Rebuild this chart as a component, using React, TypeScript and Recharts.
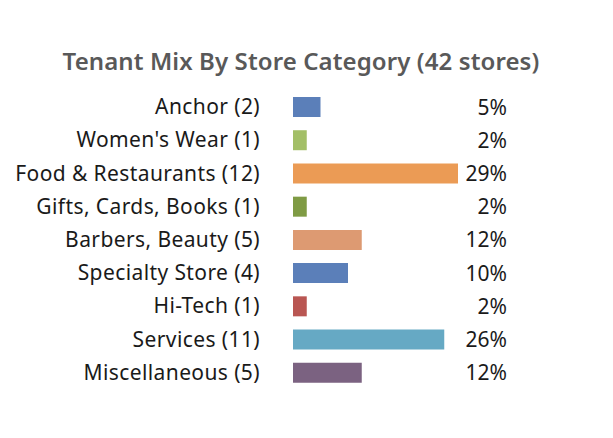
import React from "react";
import { BarChart, Bar, XAxis, YAxis, Cell, LabelList } from "recharts";

const categories = [
  "Anchor (2)",
  "Women's Wear (1)",
  "Food & Restaurants (12)",
  "Gifts, Cards, Books (1)",
  "Barbers, Beauty (5)",
  "Specialty Store (4)",
  "Hi-Tech (1)",
  "Services (11)",
  "Miscellaneous (5)",
];
const storeCounts = [2, 1, 12, 1, 5, 4, 1, 11, 5];
const percentLabels = ["5%", "2%", "29%", "2%", "12%", "10%", "2%", "26%", "12%"];
const barColors = [
  "#5b7fb9",
  "#a3bf67",
  "#eb9b55",
  "#7f9b44",
  "#dd9a72",
  "#5b7fb9",
  "#b95652",
  "#66a9c4",
  "#7b6281",
];
const title = "Tenant Mix By Store Category (42 stores)";

const data = categories.map((name, i) => ({
  name,
  count: storeCounts[i],
  pct: percentLabels[i],
}));

const FONT = "'Noto Sans', 'Open Sans', sans-serif";

const CategoryTick = (props: any) => {
  const { x, y, payload } = props;
  return (
    <text
      x={x - 25}
      y={y}
      dy={7.5}
      textAnchor="end"
      fill="#1a1a1a"
      fontSize={21}
      letterSpacing={0.4}
      fontFamily={FONT}
    >
      {payload.value}
    </text>
  );
};

const PctLabel = (props: any) => {
  const { y, height, index } = props;
  return (
    <text
      x={507}
      y={y + height / 2}
      dy={7.5}
      textAnchor="end"
      fill="#1a1a1a"
      fontSize={21}
      fontFamily={FONT}
    >
      {percentLabels[index]}
    </text>
  );
};

export default function App() {
  return (
    <div
      style={{
        position: "absolute",
        left: 0,
        top: 0,
        width: 613,
        height: 438,
        background: "#ffffff",
      }}
    >
      <div
        style={{
          position: "absolute",
          left: 0,
          top: 45,
          width: 602,
          textAlign: "center",
          fontFamily: FONT,
          fontWeight: 600,
          fontSize: 24,
          letterSpacing: 0.1,
          color: "#595959",
          lineHeight: "32px",
        }}
      >
        {title}
      </div>
      <BarChart
        width={613}
        height={438}
        data={data}
        layout="vertical"
        margin={{ top: 90, right: 155, bottom: 49, left: 0 }}
        barSize={20}
      >
        <XAxis type="number" domain={[0, 12]} hide />
        <YAxis
          type="category"
          dataKey="name"
          width={293}
          axisLine={false}
          tickLine={false}
          tick={<CategoryTick />}
          interval={0}
        />
        <Bar dataKey="count" isAnimationActive={false}>
          {data.map((d, i) => (
            <Cell key={d.name} fill={barColors[i]} />
          ))}
          <LabelList dataKey="pct" content={<PctLabel />} />
        </Bar>
      </BarChart>
    </div>
  );
}
